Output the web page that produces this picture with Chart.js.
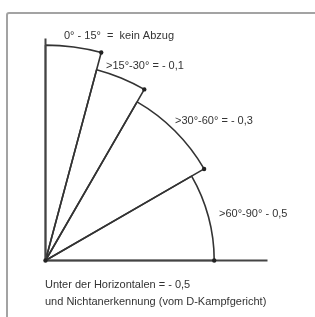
<!DOCTYPE html>
<html><head><meta charset="utf-8">
<script src="https://cdn.jsdelivr.net/npm/chart.js@4"></script>
<style>
html,body{margin:0;padding:0;background:#fff;}
#wrap{position:relative;width:315px;height:317px;overflow:hidden;background:#fff;filter:blur(0.45px);}
#frame{position:absolute;left:6px;top:12px;width:400px;height:400px;border:2px solid #a3a3a3;border-radius:3px;}
canvas{position:absolute;left:0;top:0;}
</style></head><body>
<div id="wrap"><div id="frame"></div><canvas id="c" width="315" height="317"></canvas></div>
<script>
// Sector labels (angle ranges measured from the vertical)
const sectorLabels = ['0° - 15°  =  kein Abzug', '>15°-30° = - 0,1', '>30°-60° = - 0,3', '>60°-90° - 0,5'];
// Angular width of each sector, in degrees
const sectorAngles = [15, 15, 30, 30];
// Radius of each sector, in axis units
const sectorRadii = [9.7, 8.9, 8.25, 7.6];
// Length of the two axes, in axis units
const axisMax = 10;
// Note under the diagram
const noteLines = ['Unter der Horizontalen = - 0,5', 'und Nichtanerkennung (vom D-Kampfgericht)'];

const overlay = {
  id: 'overlay',
  afterDatasetsDraw(chart, args, opts) {
    const ctx = chart.ctx;
    const scale = chart.scales.r;
    const cx = scale.xCenter, cy = scale.yCenter;
    const len = scale.getDistanceFromCenterForValue(axisMax);
    ctx.save();
    ctx.strokeStyle = '#444';
    ctx.lineWidth = 2;
    ctx.beginPath();
    ctx.moveTo(cx, cy); ctx.lineTo(cx, cy - len);
    ctx.moveTo(cx, cy); ctx.lineTo(cx + len, cy);
    ctx.stroke();
    // dots at the end of each arc and at the origin
    ctx.fillStyle = '#222';
    const pts = [{x: cx, y: cy}];
    chart.getDatasetMeta(0).data.forEach(a => {
      const p = a.getProps(['x', 'y', 'outerRadius', 'endAngle']);
      pts.push({x: p.x + p.outerRadius * Math.cos(p.endAngle), y: p.y + p.outerRadius * Math.sin(p.endAngle)});
    });
    pts.forEach(p => { ctx.beginPath(); ctx.arc(p.x, p.y, 2.2, 0, Math.PI * 2); ctx.fill(); });
    // texts
    ctx.font = '11px "Liberation Sans", Arial, sans-serif';
    ctx.fillStyle = '#333';
    ctx.textBaseline = 'middle';
    ctx.textAlign = 'left';
    chart.data.labels.forEach((t, i) => ctx.fillText(t, opts.labelPos[i][0], opts.labelPos[i][1]));
    noteLines.forEach((t, i) => ctx.fillText(t, opts.notePos[0], opts.notePos[1] + i * opts.noteGap));
    ctx.restore();
  }
};

new Chart(document.getElementById('c'), {
  type: 'polarArea',
  data: {
    labels: sectorLabels,
    datasets: [{
      data: sectorRadii,
      angle: sectorAngles,
      backgroundColor: 'rgba(255,255,255,0)',
      borderColor: '#333',
      borderWidth: 1.6
    }]
  },
  options: {
    responsive: false,
    animation: false,
    devicePixelRatio: 1,
    layout: {padding: 0},
    plugins: {
      legend: {display: false},
      tooltip: {enabled: false},
      overlay: {
        labelPos: [[64, 36], [106, 66], [175, 121], [219, 214]],
        notePos: [45, 285],
        noteGap: 16.5
      }
    },
    scales: {
      r: {
        display: false,
        min: 0,
        max: axisMax,
        startAngle: 0,
        afterFit(scale) {
          scale.xCenter = 45.5;
          scale.yCenter = 260.5;
          scale.drawingArea = 222;
        }
      }
    }
  },
  plugins: [overlay]
});
</script>
</body></html>
